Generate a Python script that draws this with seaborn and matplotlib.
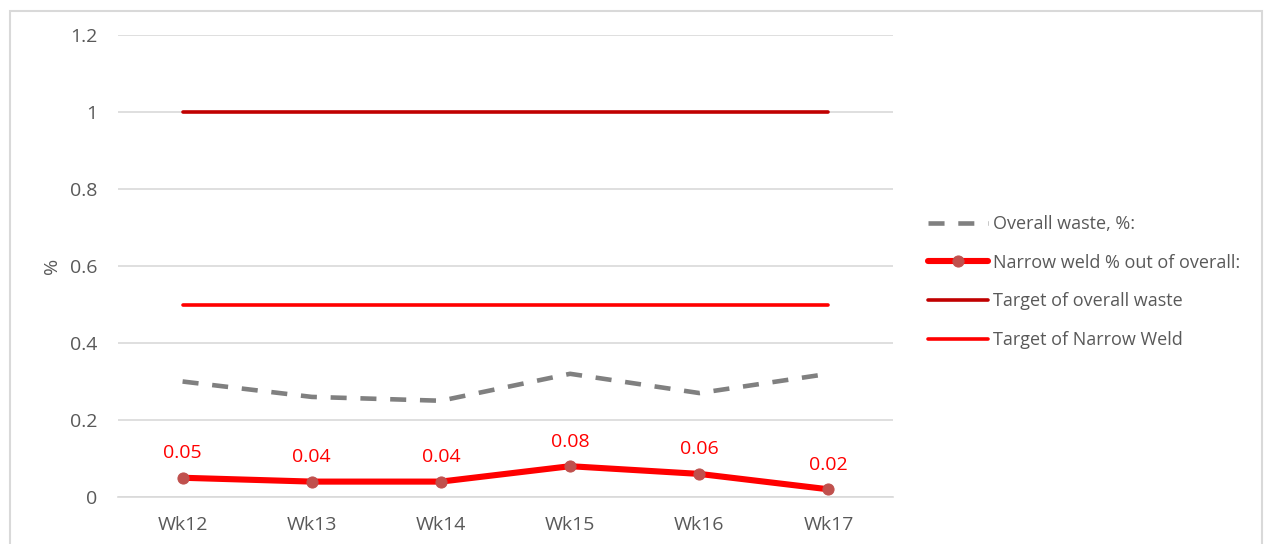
import matplotlib
matplotlib.use("Agg")
import matplotlib.pyplot as plt
import seaborn as sns
import pandas as pd
import numpy as np
from matplotlib.patches import Rectangle

weeks = ["Wk12", "Wk13", "Wk14", "Wk15", "Wk16", "Wk17"]
overall_waste = [0.30, 0.26, 0.25, 0.32, 0.27, 0.32]
narrow_weld = [0.05, 0.04, 0.04, 0.08, 0.06, 0.02]
target_overall = [1, 1, 1, 1, 1, 1]
target_narrow = [0.5, 0.5, 0.5, 0.5, 0.5, 0.5]
y_ticks = [0, 0.2, 0.4, 0.6, 0.8, 1, 1.2]
y_tick_labels = ["0", "0.2", "0.4", "0.6", "0.8", "1", "1.2"]

sns.set_theme(style="white")
plt.rcParams["font.family"] = ["Open Sans", "DejaVu Sans"]

idx = np.arange(len(weeks))
df = pd.DataFrame({
    "x": idx,
    "overall": overall_waste,
    "narrow": narrow_weld,
    "t_overall": target_overall,
    "t_narrow": target_narrow,
})

fig = plt.figure(figsize=(12.67, 5.44), dpi=100)
ax = fig.add_axes([118 / 1267, 47 / 544, 775 / 1267, 462 / 544])

txt = "#595959"
grid = "#D9D9D9"

sns.lineplot(data=df, x="x", y="overall", ax=ax, color="#808080", lw=3.3,
             label="Overall waste, %:")
ax.lines[-1].set_dashes([3.5, 3])
sns.lineplot(data=df, x="x", y="narrow", ax=ax, color="#FF0000", lw=4.4,
             marker="o", markersize=8, markerfacecolor="#C0504D",
             markeredgecolor="#C0504D", label="Narrow weld % out of overall:")
sns.lineplot(data=df, x="x", y="t_overall", ax=ax, color="#C00000", lw=2.6,
             label="Target of overall waste")
sns.lineplot(data=df, x="x", y="t_narrow", ax=ax, color="#FF0000", lw=2.6,
             label="Target of Narrow Weld")

for xi, v in zip(idx, narrow_weld):
    ax.annotate(f"{v:g}", (xi, v), xytext=(0, 14), textcoords="offset points",
                ha="center", va="baseline", color="#FF0000", fontsize=14)

ax.set_xlim(-0.5, len(weeks) - 0.5)
ax.set_ylim(0, 1.2)
ax.set_yticks(y_ticks)
ax.set_yticklabels(y_tick_labels)
ax.set_xticks(idx)
ax.set_xticklabels(weeks)
ax.tick_params(axis="y", length=0, pad=15, labelsize=14, labelcolor=txt)
ax.tick_params(axis="x", length=0, pad=13.5, labelsize=14, labelcolor=txt)
ax.set_xlabel("")
ax.set_ylabel("%", color=txt, fontsize=14, labelpad=6)
ax.grid(axis="y", color=grid, lw=1.2)
ax.set_axisbelow(True)
for s in ["top", "right", "left"]:
    ax.spines[s].set_visible(False)
ax.spines["bottom"].set_color(grid)
ax.spines["bottom"].set_linewidth(1.2)

leg = ax.legend(loc="center left", bbox_to_anchor=(921 / 1267, 1 - 282 / 544),
                bbox_transform=fig.transFigure, frameon=False, fontsize=13,
                handlelength=3.33, handletextpad=0.28, labelspacing=1.15,
                borderaxespad=0)
for t in leg.get_texts():
    t.set_color(txt)

fig.patches.append(Rectangle((10 / 1267, -0.1), 1252 / 1267, 1.1 - 11 / 544,
                             transform=fig.transFigure, fill=False,
                             edgecolor="#D9D9D9", lw=1.5))

fig.savefig("out.png", dpi=100)
